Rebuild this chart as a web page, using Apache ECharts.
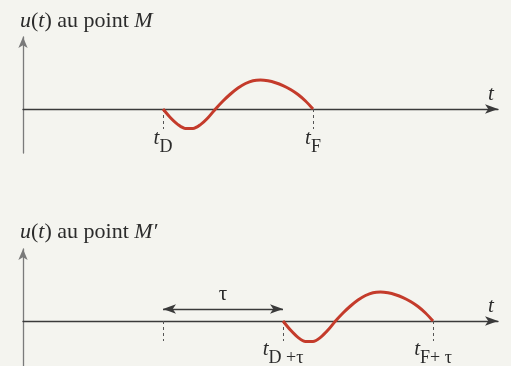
<!DOCTYPE html>
<html lang="fr">

<head>
    <meta charset="UTF-8">
    <title>u(t) au point M</title>
    <style>
        * {
            margin: 0;
        }

        html,
        body,
        #chart {
            width: 511px;
            height: 366px;
            background: #f4f4ef;
        }
    </style>
</head>

<body>
    <div id="chart"></div>
    <script src="https://cdn.jsdelivr.net/npm/echarts@6/dist/echarts.min.js"></script>
    <script>
        // courbe au point M (t, u)
        var topT = [28, 29.5, 31, 32.5, 34, 35.5, 37, 38.5, 40, 41.5, 43, 44.5, 46, 47.5, 49, 50.5, 52, 53.5, 55, 56.5, 58];
        var topU = [0, -8.7, -15.6, -19.5, -19.5, -15.6, -8.7, 0, 8, 15, 21, 25.5, 28.3, 29, 28.2, 26.3, 23.4, 19.5, 14.5, 8, 0];
        // courbe au point M' (retardée de tau)
        var botT = [52, 53.5, 55, 56.5, 58, 59.5, 61, 62.5, 64, 65.5, 67, 68.5, 70, 71.5, 73, 74.5, 76, 77.5, 79, 80.5, 82];
        var botU = [0, -9.1, -16.4, -20.5, -20.5, -16.4, -9.1, 0, 8, 15, 21, 25.5, 28.3, 29, 28.2, 26.3, 23.4, 19.5, 14.5, 8, 0];

        var topTicks = [28, 58];
        var topTickNames = ['D', 'F'];
        var botTicks = [28, 52, 82];
        var botLabelTicks = [52, 82];
        var botTickNames = ['D +τ', 'F+ τ'];
        var tauFrom = 28, tauTo = 52, tauLevel = 12;

        var serif = 'Liberation Serif';
        var ink = '#2b2b2b';
        var red = '#c43b2b';

        function pairs(xs, ys) {
            var out = [];
            for (var i = 0; i < xs.length; i++) out.push([xs[i], ys[i]]);
            return out;
        }

        function lbl(ticks, names) {
            return function (v) {
                var i = ticks.indexOf(v);
                return i < 0 ? '' : '{t|t}{s|' + names[i] + '}';
            };
        }

        var richLbl = {
            t: { fontFamily: serif, fontStyle: 'italic', fontSize: 21, color: ink, lineHeight: 20, verticalAlign: 'top' },
            s: { fontFamily: serif, fontSize: 18, color: ink, lineHeight: 18, padding: [10, 0, 0, 0], verticalAlign: 'top' }
        };

        // labels are placed from the grid bottom, so margin is relative to it
        function xAx(grid, ticks, labelTicks, names, margin) {
            return {
                type: 'value', gridIndex: grid, min: 0, max: 95,
                axisLine: { onZero: true, symbol: ['none', 'arrow'], symbolSize: [7, 13], lineStyle: { color: '#3a3a3a', width: 1.3 } },
                axisTick: { show: true, customValues: ticks, length: 20, lineStyle: { color: '#555', type: [3, 3], width: 1 } },
                axisLabel: { show: true, customValues: labelTicks, margin: margin, formatter: lbl(labelTicks, names), rich: richLbl },
                splitLine: { show: false },
                name: 't', nameLocation: 'end', nameGap: -7,
                nameTextStyle: { fontFamily: serif, fontStyle: 'italic', fontSize: 21, color: ink, align: 'center', verticalAlign: 'bottom', padding: [0, 0, 4, 0] }
            };
        }

        function yAx(grid, min) {
            return {
                type: 'value', gridIndex: grid, min: min, max: 72,
                axisLine: { show: true, onZero: false, symbol: ['none', 'arrow'], symbolSize: [7, 11], lineStyle: { color: '#7a7a7a', width: 1.3 } },
                axisTick: { show: false }, axisLabel: { show: false }, splitLine: { show: false }
            };
        }

        var richTitle = {
            i: { fontFamily: serif, fontStyle: 'italic', fontWeight: 'normal', fontSize: 22, color: ink },
            n: { fontFamily: serif, fontWeight: 'normal', fontSize: 22, color: ink }
        };

        var chart = echarts.init(document.getElementById('chart'));
        var option = {
            backgroundColor: '#f4f4ef',
            animation: false,
            title: [
                { left: 15, top: 5, text: '{i|u}{n|(}{i|t}{n|) au point }{i|M}', textStyle: { fontWeight: 'normal', rich: richTitle } },
                { left: 15, top: 216, text: '{i|u}{n|(}{i|t}{n|) au point }{i|M′}', textStyle: { fontWeight: 'normal', rich: richTitle } }
            ],
            grid: [
                { left: 23, width: 475, top: 37, height: 116, outerBoundsMode: 'none' },
                { left: 23, width: 475, top: 249, height: 117, outerBoundsMode: 'none' }
            ],
            xAxis: [
                xAx(0, topTicks, topTicks, topTickNames, -25),
                xAx(1, botTicks, botLabelTicks, botTickNames, -27)
            ],
            yAxis: [yAx(0, -44), yAx(1, -45)],
            series: [
                {
                    type: 'line', xAxisIndex: 0, yAxisIndex: 0, data: pairs(topT, topU),
                    smooth: 0.3, symbol: 'none', lineStyle: { color: red, width: 3 }
                },
                {
                    type: 'line', xAxisIndex: 1, yAxisIndex: 1, data: pairs(botT, botU),
                    smooth: 0.3, symbol: 'none', lineStyle: { color: red, width: 3 },
                    markLine: {
                        silent: true, symbol: ['arrow', 'arrow'], symbolSize: [7, 13],
                        lineStyle: { color: '#3a3a3a', width: 1.3, type: 'solid' },
                        label: { show: true, position: 'middle', formatter: 'τ', fontFamily: serif, fontSize: 21, color: ink, distance: 4 },
                        data: [[{ coord: [tauFrom, tauLevel] }, { coord: [tauTo, tauLevel] }]]
                    }
                }
            ]
        };
        chart.setOption(option);
    </script>
</body>

</html>
